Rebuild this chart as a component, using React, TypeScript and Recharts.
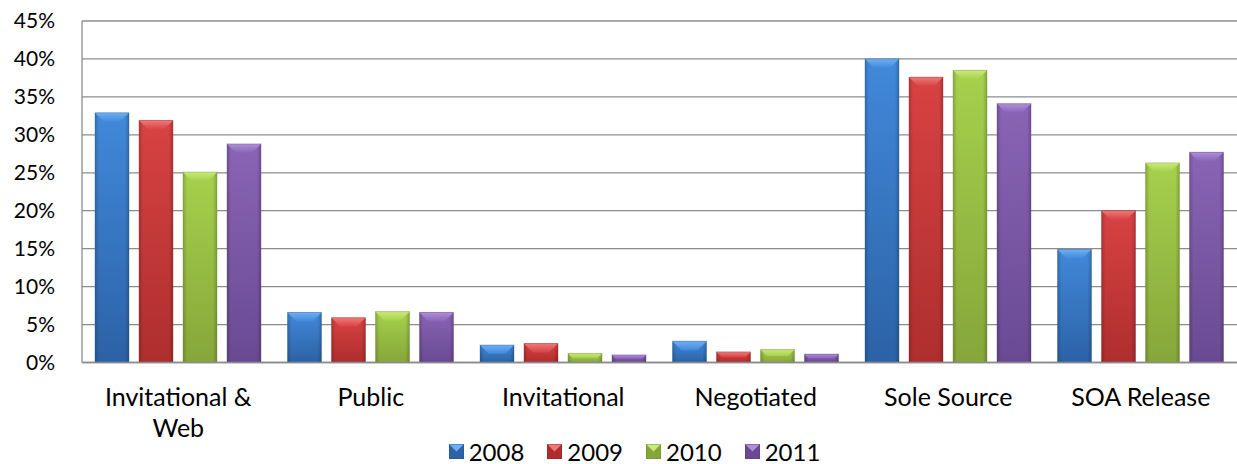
import React from 'react';
import { BarChart, Bar, XAxis, YAxis, CartesianGrid, Legend } from 'recharts';

const categories = ['Invitational & Web', 'Public', 'Invitational', 'Negotiated', 'Sole Source', 'SOA Release'];
const y2008 = [32.9, 6.6, 2.3, 2.8, 40.0, 14.9];
const y2009 = [31.9, 5.9, 2.5, 1.4, 37.6, 20.0];
const y2010 = [25.1, 6.7, 1.2, 1.7, 38.5, 26.3];
const y2011 = [28.8, 6.6, 1.0, 1.1, 34.1, 27.7];
const years = ['2008', '2009', '2010', '2011'];
const yTicks = [0, 5, 10, 15, 20, 25, 30, 35, 40, 45];

const FONT = 'Lato, "Noto Sans", sans-serif';
const GRID = '#8c8c8c';
const CAT_FONT_SIZE = 25;
const CAT_MAX_WIDTH = 165;

// top / bottom of the body gradient, and the lighter bevel cap
const palette: Record<string, { top: string; bottom: string; cap: string; edge: string }> = {
  '2008': { top: '#4189da', bottom: '#2c62a6', cap: '#6fb0f5', edge: '#24528c' },
  '2009': { top: '#d84242', bottom: '#ae2e2e', cap: '#ee7a78', edge: '#8e2424' },
  '2010': { top: '#a6d04c', bottom: '#86a63a', cap: '#c8ea7a', edge: '#6e8a2e' },
  '2011': { top: '#8a64b6', bottom: '#694a92', cap: '#ae8fd8', edge: '#553c78' },
};

const data = categories.map((name, i) => ({
  name,
  '2008': y2008[i],
  '2009': y2009[i],
  '2010': y2010[i],
  '2011': y2011[i],
}));

let measureCtx: CanvasRenderingContext2D | null = null;
const textWidth = (s: string) => {
  if (!measureCtx) measureCtx = document.createElement('canvas').getContext('2d');
  if (!measureCtx) return s.length * CAT_FONT_SIZE * 0.5;
  measureCtx.font = `${CAT_FONT_SIZE}px Lato`;
  return measureCtx.measureText(s).width;
};

// greedy word wrap for the category labels
const wrapLabel = (label: string) => {
  const lines: string[] = [];
  let cur = '';
  label.split(' ').forEach((w) => {
    const next = cur ? `${cur} ${w}` : w;
    if (cur && textWidth(next) > CAT_MAX_WIDTH) {
      lines.push(cur);
      cur = w;
    } else {
      cur = next;
    }
  });
  if (cur) lines.push(cur);
  return lines;
};

const BevelBar = (props: any) => {
  const { x, y, width, height, dataKey } = props;
  if (!height || height <= 0) return null;
  const pal = palette[dataKey];
  const b = Math.min(9, height / 2, width / 3);
  return (
    <g>
      <rect x={x} y={y} width={width} height={height} fill={`url(#body-${dataKey})`} />
      <rect x={x} y={y} width={width} height={height} fill="url(#sideShade)" />
      <polygon
        points={`${x},${y} ${x + width},${y} ${x + width - b},${y + b} ${x + b},${y + b}`}
        fill={`url(#cap-${dataKey})`}
      />
      <rect x={x} y={y} width={width} height={height} fill="none" stroke={pal.edge} strokeOpacity={0.35} strokeWidth={1} />
    </g>
  );
};

const CategoryTick = ({ x, y, payload }: any) => {
  const lines = wrapLabel(String(payload.value));
  return (
    <text x={x} y={y} textAnchor="middle" fill="#000" style={{ fontSize: CAT_FONT_SIZE, fontFamily: FONT }}>
      {lines.map((ln, i) => (
        <tspan key={i} x={x} dy={i === 0 ? '0.71em' : 31}>
          {ln}
        </tspan>
      ))}
    </text>
  );
};

const Swatch = ({ year }: { year: string }) => {
  const pal = palette[year];
  return (
    <svg width={15} height={15} style={{ display: 'block' }}>
      <rect x={0} y={0} width={15} height={15} fill={pal.bottom} />
      <polygon points="0,0 15,0 7.5,7.5" fill={pal.cap} />
      <rect x={0.5} y={0.5} width={14} height={14} fill="none" stroke={pal.edge} strokeOpacity={0.4} />
    </svg>
  );
};

const LegendRow = () => (
  <div
    style={{
      width: 1237,
      height: 36,
      boxSizing: 'border-box',
      paddingTop: 11,
      paddingLeft: 32,
      display: 'flex',
      justifyContent: 'center',
      fontFamily: FONT,
      fontSize: 24,
      lineHeight: '24px',
      color: '#000',
    }}
  >
    {years.map((yr, i) => (
      <div key={yr} style={{ display: 'flex', alignItems: 'center', marginRight: i < years.length - 1 ? 23 : 0 }}>
        <Swatch year={yr} />
        <span style={{ marginLeft: 5 }}>{yr}</span>
      </div>
    ))}
  </div>
);

const minorTicks = Array.from({ length: 46 }, (_, i) => i);

export default function App() {
  return (
    <div style={{ position: 'absolute', left: 0, top: 0, width: 1237, height: 464, background: '#fff', fontFamily: FONT }}>
      <BarChart
        width={1237}
        height={464}
        data={data}
        margin={{ top: 21, right: 0, bottom: 0, left: 0 }}
        barCategoryGap={13}
        barGap={10}
      >
        <defs>
          {years.map((yr) => (
            <linearGradient key={`b${yr}`} id={`body-${yr}`} x1="0" y1="0" x2="0" y2="1">
              <stop offset="0%" stopColor={palette[yr].top} />
              <stop offset="100%" stopColor={palette[yr].bottom} />
            </linearGradient>
          ))}
          {years.map((yr) => (
            <linearGradient key={`c${yr}`} id={`cap-${yr}`} x1="0" y1="0" x2="0" y2="1">
              <stop offset="0%" stopColor={palette[yr].cap} />
              <stop offset="100%" stopColor={palette[yr].top} />
            </linearGradient>
          ))}
          <linearGradient id="sideShade" x1="0" y1="0" x2="1" y2="0">
            <stop offset="0%" stopColor="#000" stopOpacity={0.18} />
            <stop offset="12%" stopColor="#000" stopOpacity={0} />
            <stop offset="88%" stopColor="#000" stopOpacity={0} />
            <stop offset="100%" stopColor="#000" stopOpacity={0.2} />
          </linearGradient>
        </defs>
        <CartesianGrid vertical={false} stroke={GRID} strokeWidth={1.3} />
        <XAxis
          dataKey="name"
          axisLine={{ stroke: GRID, strokeWidth: 1.5 }}
          tickLine={false}
          tickSize={0}
          tickMargin={26}
          height={65.5}
          interval={0}
          tick={<CategoryTick />}
        />
        <YAxis
          domain={[0, 45]}
          ticks={yTicks}
          width={82}
          axisLine={{ stroke: GRID, strokeWidth: 1.3 }}
          tickLine={false}
          tickSize={0}
          tickMargin={27}
          tickFormatter={(v) => `${v}%`}
          tick={{ fontSize: 21, fill: '#000', fontFamily: FONT }}
        />
        <YAxis
          yAxisId="minor"
          orientation="left"
          mirror
          width={0}
          domain={[0, 45]}
          ticks={minorTicks}
          tick={false}
          tickSize={6}
          tickLine={{ stroke: GRID, strokeWidth: 1 }}
          axisLine={false}
        />
        <Legend verticalAlign="bottom" content={() => <LegendRow />} wrapperStyle={{ left: 0, width: 1237 }} />
        {years.map((yr) => (
          <Bar key={yr} dataKey={yr} fill={palette[yr].top} shape={BevelBar} isAnimationActive={false} />
        ))}
      </BarChart>
    </div>
  );
}
